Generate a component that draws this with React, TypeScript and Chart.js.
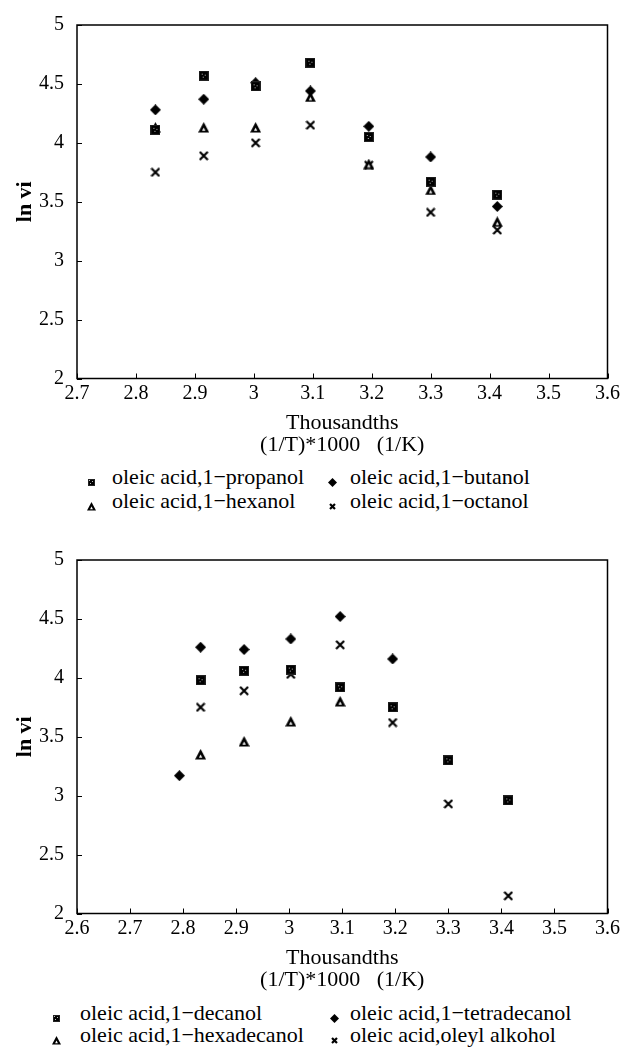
import React, { useEffect, useRef, useMemo } from "react";
import { Chart, registerables } from "chart.js";
Chart.register(...registerables);

// ---------- data (x = 1000/T, y = ln vi) ----------
const xTop = [2.833, 2.915, 3.003, 3.096, 3.195, 3.3, 3.413];
const propanol = [4.11, 4.57, 4.48, 4.68, 4.05, 3.67, 3.56];
const butanol = [4.28, 4.37, 4.51, 4.44, 4.14, 3.88, 3.46];
const hexanol = [4.13, 4.13, 4.13, 4.39, 3.82, 3.6, 3.33];
const octanol = [3.75, 3.89, 4.0, 4.15, 3.81, 3.41, 3.26];

const xBottom = [2.793, 2.833, 2.915, 3.003, 3.096, 3.195, 3.3, 3.413];
const decanol = [null, 3.98, 4.06, 4.07, 3.92, 3.75, 3.3, 2.96];
const tetradecanol = [3.17, 4.26, 4.24, 4.33, 4.52, 4.16, null, null];
const hexadecanol = [null, 3.35, 3.46, 3.63, 3.8, null, null, null];
const oleylAlcohol = [null, 3.75, 3.89, 4.03, 4.28, 3.62, 2.93, 2.15];

const xTicksTop = [2.7, 2.8, 2.9, 3.0, 3.1, 3.2, 3.3, 3.4, 3.5, 3.6];
const xTickLabelsTop = ["2.7", "2.8", "2.9", "3", "3.1", "3.2", "3.3", "3.4", "3.5", "3.6"];
const xTicksBottom = [2.6, 2.7, 2.8, 2.9, 3.0, 3.1, 3.2, 3.3, 3.4, 3.5, 3.6];
const xTickLabelsBottom = ["2.6", "2.7", "2.8", "2.9", "3", "3.1", "3.2", "3.3", "3.4", "3.5", "3.6"];
const yTicks = [2, 2.5, 3, 3.5, 4, 4.5, 5];
const yTickLabels = ["2", "2.5", "3", "3.5", "4", "4.5", "5"];

const labelsTop = [
  "oleic acid,1\u2212propanol",
  "oleic acid,1\u2212butanol",
  "oleic acid,1\u2212hexanol",
  "oleic acid,1\u2212octanol",
];
const labelsBottom = [
  "oleic acid,1\u2212decanol",
  "oleic acid,1\u2212tetradecanol",
  "oleic acid,1\u2212hexadecanol",
  "oleic acid,oleyl alkohol",
];

const FONT = "'Liberation Serif', 'Times New Roman', serif";

type Kind = "square" | "diamond" | "triangle" | "cross";
const kinds: Kind[] = ["square", "diamond", "triangle", "cross"];

function makeMarker(kind: Kind, s: number): HTMLCanvasElement {
  const c = document.createElement("canvas");
  c.width = s;
  c.height = s;
  const g = c.getContext("2d")!;
  g.fillStyle = "#000";
  g.strokeStyle = "#000";
  if (kind === "square") {
    g.fillStyle = "#222";
    g.fillRect(0, 0, s, s);
    g.fillStyle = "#000";
    g.fillRect(1, 1, s - 2, s - 2);
    g.fillStyle = "#bbb";
    const m = Math.floor(s / 2);
    g.fillRect(m - 2, m - 2, 1, 1);
    g.fillRect(m + 1, m - 1, 1, 1);
    g.fillRect(m - 1, m + 1, 1, 1);
  } else if (kind === "diamond") {
    const h = s / 2;
    g.beginPath();
    g.moveTo(h, 0);
    g.lineTo(s, h);
    g.lineTo(h, s);
    g.lineTo(0, h);
    g.closePath();
    g.fill();
  } else if (kind === "triangle") {
    g.beginPath();
    g.moveTo(s / 2, 0);
    g.lineTo(s, s - 0.5);
    g.lineTo(0, s - 0.5);
    g.closePath();
    g.fill();
    g.fillStyle = "#fff";
    g.beginPath();
    g.moveTo(s / 2, s * 0.5);
    g.lineTo(s / 2 + s * 0.15, s * 0.8);
    g.lineTo(s / 2 - s * 0.15, s * 0.8);
    g.closePath();
    g.fill();
  } else {
    g.lineWidth = 2.2;
    g.beginPath();
    g.moveTo(1, 1);
    g.lineTo(s - 1, s - 1);
    g.moveTo(s - 1, 1);
    g.lineTo(1, s - 1);
    g.stroke();
  }
  return c;
}

const plotSizes: Record<Kind, number> = { square: 10, diamond: 11, triangle: 11, cross: 10 };
const legendSizes: Record<Kind, number> = { square: 7, diamond: 9, triangle: 9, cross: 7 };

const framePlugin = {
  id: "frame",
  afterDraw(chart: any) {
    const { ctx, chartArea: a, scales } = chart;
    ctx.save();
    ctx.strokeStyle = "#000";
    ctx.lineWidth = 1;
    scales.x.ticks.forEach((t: any) => {
      const px = Math.round(scales.x.getPixelForValue(t.value)) + 0.5;
      ctx.beginPath();
      ctx.moveTo(px, a.bottom);
      ctx.lineTo(px, a.bottom - 5);
      ctx.stroke();
    });
    scales.y.ticks.forEach((t: any) => {
      const py = Math.round(scales.y.getPixelForValue(t.value)) + 0.5;
      ctx.beginPath();
      ctx.moveTo(a.left, py);
      ctx.lineTo(a.left + 5, py);
      ctx.stroke();
    });
    ctx.lineWidth = 1.5;
    ctx.strokeRect(a.left, a.top, a.right - a.left, a.bottom - a.top);
    ctx.restore();
  },
};

interface PanelProps {
  top: number;
  xs: number[];
  series: (number | null)[][];
  labels: string[];
  xTicks: number[];
  xTickLabels: string[];
}

function Panel({ top, xs, series, labels, xTicks, xTickLabels }: PanelProps) {
  const ref = useRef<HTMLCanvasElement>(null);
  useEffect(() => {
    const datasets = series.map((vals, si) => ({
      label: labels[si],
      data: xs
        .map((x, i) => (vals[i] == null ? null : { x, y: vals[i] as number }))
        .filter((p) => p !== null),
      pointStyle: makeMarker(kinds[si], plotSizes[kinds[si]]),
      pointRadius: 5,
      backgroundColor: "#000",
      borderColor: "#000",
    }));
    const chart = new Chart(ref.current!, {
      type: "scatter",
      data: { datasets } as any,
      plugins: [framePlugin],
      options: {
        animation: false,
        responsive: false,
        devicePixelRatio: 1,
        layout: { padding: { top: 24, right: 13, left: 0, bottom: 0 } },
        plugins: { legend: { display: false }, tooltip: { enabled: false } },
        scales: {
          x: {
            type: "linear",
            min: xTicks[0],
            max: xTicks[xTicks.length - 1],
            afterBuildTicks: (axis: any) => {
              axis.ticks = xTicks.map((v) => ({ value: v }));
            },
            afterFit: (s: any) => {
              s.height = 77.5;
            },
            grid: { display: false, drawTicks: false },
            border: { display: false },
            ticks: {
              padding: 3,
              color: "#000",
              maxRotation: 0,
              autoSkip: false,
              font: { family: FONT, size: 20 },
              callback: (_v: any, i: number) => xTickLabels[i],
            },
            title: {
              display: true,
              text: ["Thousandths", "(1/T)*1000   (1/K)"],
              color: "#000",
              font: { family: FONT, size: 22, lineHeight: 1 },
              padding: 0,
            },
          },
          y: {
            type: "linear",
            min: 2,
            max: 5,
            afterBuildTicks: (axis: any) => {
              axis.ticks = yTicks.map((v) => ({ value: v }));
            },
            afterFit: (s: any) => {
              s.width = 77;
            },
            grid: { display: false, drawTicks: false },
            border: { display: false },
            ticks: {
              padding: 13,
              color: "#000",
              font: { family: FONT, size: 20 },
              callback: (_v: any, i: number) => yTickLabels[i],
            },
            title: {
              display: true,
              text: "ln vi",
              color: "#000",
              font: { family: FONT, size: 22, weight: "bold", lineHeight: 1 },
              padding: { top: 14, bottom: 0 },
            },
          },
        },
      } as any,
    });
    return () => chart.destroy();
  }, []);
  return (
    <canvas
      ref={ref}
      width={623}
      height={456}
      style={{ position: "absolute", left: 0, top, width: 623, height: 456 }}
    />
  );
}

interface LegendProps {
  labels: string[];
  rows: number[];
  markerX: number[];
  textX: number[];
}

function Legend({ labels, rows, markerX, textX }: LegendProps) {
  const urls = useMemo(
    () => kinds.map((k) => makeMarker(k, legendSizes[k]).toDataURL()),
    []
  );
  return (
    <>
      {labels.map((lab, i) => {
        const r = Math.floor(i / 2);
        const c = i % 2;
        const sz = legendSizes[kinds[i]];
        return (
          <React.Fragment key={i}>
            <img
              src={urls[i]}
              width={sz}
              height={sz}
              style={{
                position: "absolute",
                left: markerX[c] - sz / 2,
                top: rows[r] + 5 - sz / 2,
              }}
            />
            <div
              style={{
                position: "absolute",
                left: textX[c],
                top: rows[r] - 12,
                height: 24,
                lineHeight: "24px",
                fontFamily: FONT,
                fontSize: 22,
                color: "#000",
                whiteSpace: "nowrap",
              }}
            >
              {lab}
            </div>
          </React.Fragment>
        );
      })}
    </>
  );
}

export default function App() {
  useEffect(() => {
    document.body.style.margin = "0";
    document.body.style.background = "#fff";
  }, []);
  return (
    <div
      style={{
        position: "relative",
        width: 623,
        height: 1053,
        overflow: "hidden",
        background: "#fff",
      }}
    >
      <Panel
        top={0}
        xs={xTop}
        series={[propanol, butanol, hexanol, octanol]}
        labels={labelsTop}
        xTicks={xTicksTop}
        xTickLabels={xTickLabelsTop}
      />
      <Legend labels={labelsTop} rows={[477, 501]} markerX={[91, 332]} textX={[112, 350]} />
      <Panel
        top={535}
        xs={xBottom}
        series={[decanol, tetradecanol, hexadecanol, oleylAlcohol]}
        labels={labelsBottom}
        xTicks={xTicksBottom}
        xTickLabels={xTickLabelsBottom}
      />
      <Legend labels={labelsBottom} rows={[1013, 1035]} markerX={[56, 334]} textX={[80, 350]} />
    </div>
  );
}
